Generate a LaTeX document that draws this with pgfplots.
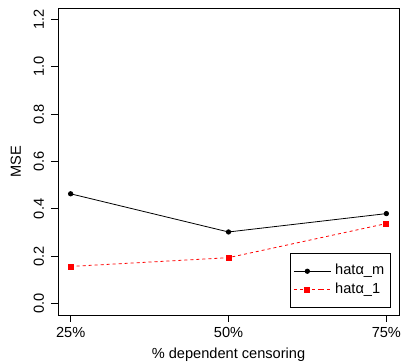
\documentclass[border=0pt]{standalone}
\usepackage{fontspec}
\setmainfont{Liberation Sans}
\usepackage{pgfplots}
\pgfplotsset{compat=1.18}
\begin{document}
\fontsize{14.6}{17}\selectfont
\begin{tikzpicture}
\path[use as bounding box] (-58pt,-48pt) rectangle (346pt,315pt);
\begin{axis}[
  at={(0,0)}, anchor=south west,
  scale only axis, width=341pt, height=307pt,
  xmin=0.92, xmax=3.08, ymin=-0.048, ymax=1.248,
  xtick={1,2,3}, xticklabels={25\%,50\%,75\%},
  ytick={0,0.2,0.4,0.6,0.8,1.0,1.2},
  /pgf/number format/fixed, /pgf/number format/fixed zerofill,
  /pgf/number format/precision=1,
  /pgf/number format/assume math mode=true,
  tick align=outside, major tick length=7pt, tick pos=left,
  axis line style={line width=0.8pt},
  every tick/.style={line width=0.8pt, black},
  tick label style={font=\fontsize{14.6}{17}\selectfont},
  yticklabel style={rotate=90, anchor=base, inner sep=0pt},
  yticklabel shift=7pt,
  xticklabel style={anchor=base, inner sep=0pt},
  xticklabel shift=15.5pt,
  legend style={at={(0.977,0.023)}, anchor=south east, draw=black,
    line width=0.8pt, fill=white, font=\fontsize{14.6}{17}\selectfont,
    inner xsep=3pt, inner ysep=11.5pt, row sep=5.3pt,
    nodes={inner xsep=3.5pt, inner ysep=0pt, text height=10pt, text depth=3pt},
    /tikz/every even column/.append style={column sep=0pt}},
  legend cell align=left,
  legend image code/.code={\draw[mark repeat=2,mark phase=2] plot coordinates {(0pt,0pt) (13.5pt,0pt) (27pt,0pt)};\path (27pt,0pt) -- (37.5pt,0pt);},
]
\addplot[black, line width=0.8pt, mark=*, mark size=2.2pt] coordinates {(1,0.4636) (2,0.3025) (3,0.380)};
\addlegendentry{hatα\_m}
\addplot[red, line width=0.8pt, dash pattern=on 3pt off 3pt, mark=square*, mark size=2.5pt, mark options={solid}] coordinates {(1,0.157) (2,0.194) (3,0.338)};
\addlegendentry{hatα\_1}
\end{axis}
\node[rotate=90, anchor=base] at (-37pt,153.5pt) {MSE};
\node[anchor=base] at (170.5pt,-44pt) {\% dependent censoring};
\end{tikzpicture}
\end{document}
